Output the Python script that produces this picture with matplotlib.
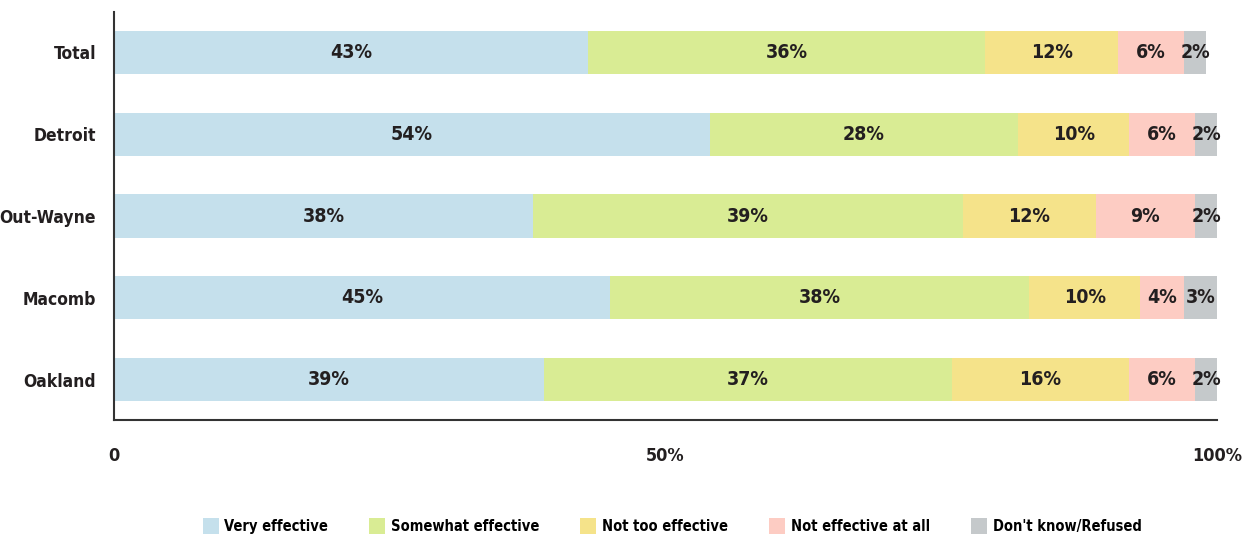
import matplotlib
matplotlib.use("Agg")
import matplotlib.pyplot as plt
from matplotlib.patches import Patch

plt.rcParams['font.family'] = ['DejaVu Sans']
plt.rcParams['font.stretch'] = 'condensed'

# data
regions = ["Total", "Detroit", "Out-Wayne", "Macomb", "Oakland"]
very = [43, 54, 38, 45, 39]
somewhat = [36, 28, 39, 38, 37]
not_too = [12, 10, 12, 10, 16]
not_at_all = [6, 6, 9, 4, 6]
dont_know = [2, 2, 2, 3, 2]

series_names = ["Very effective", "Somewhat effective", "Not too effective",
                "Not effective at all", "Don't know/Refused"]
colors = ["#C5E0EC", "#D9EC94", "#F5E38A", "#FDCCC3", "#C5C9CB"]
TXT = '#231F20'

fig = plt.figure(figsize=(12.5, 5.4), dpi=100)
ax = fig.add_axes([0.0912, 0.222, 0.8824, 0.756])

ypos = list(range(len(regions)))
left = [0] * len(regions)
for vals, col in zip([very, somewhat, not_too, not_at_all, dont_know], colors):
    ax.barh(ypos, vals, left=left, height=0.525, color=col, edgecolor='none')
    for y, l, v in zip(ypos, left, vals):
        ax.text(l + v / 2, y, f"{v}%", ha='center', va='center',
                fontsize=14, color=TXT, fontweight='bold')
    left = [a + b for a, b in zip(left, vals)]

ax.set_xlim(0, 100)
ax.set_ylim(4.49, -0.49)
ax.set_yticks(ypos)
ax.set_yticklabels(regions, fontsize=12.5, fontweight='bold', color=TXT)
ax.set_xticks([0, 50, 100])
ax.set_xticklabels(["0", "50%", "100%"], fontsize=13, fontweight='bold', color=TXT)
ax.tick_params(axis='both', length=0)
ax.tick_params(axis='x', pad=19)
ax.tick_params(axis='y', pad=13)

for s in ['top', 'right']:
    ax.spines[s].set_visible(False)
for s in ['left', 'bottom']:
    ax.spines[s].set_color('#333333')
    ax.spines[s].set_linewidth(1.5)

handles = [Patch(facecolor=c, edgecolor='none') for c in colors]
fig.legend(handles, series_names, loc='center', bbox_to_anchor=(0.5376, 0.026),
           ncol=5, frameon=False, handlelength=1.1, handleheight=1.3,
           handletextpad=0.4, columnspacing=2.8,
           prop={'weight': 'bold', 'size': 10.5})

fig.savefig("out.png", dpi=100)
